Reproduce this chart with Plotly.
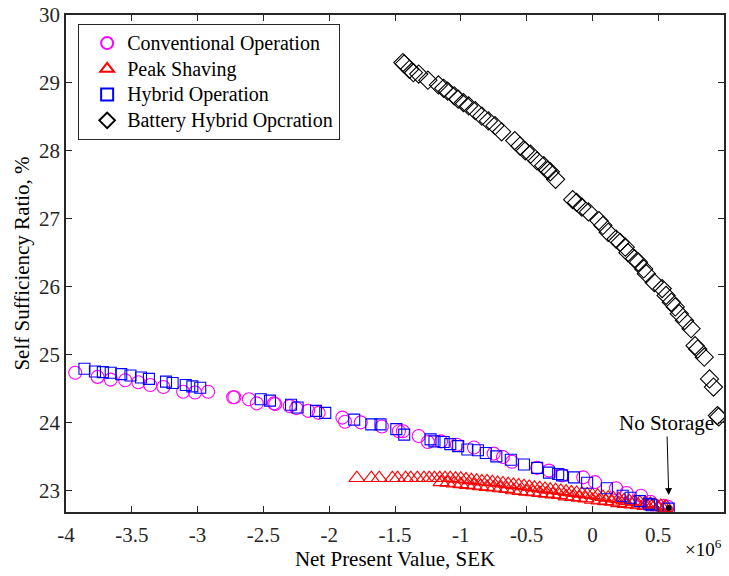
import plotly.graph_objects as go

# ---------------- data (NPV in 1e6 SEK, self-sufficiency in %) ----------------
conv_x = [-3.93, -3.76, -3.66, -3.55, -3.45, -3.36, -3.26, -3.11, -3.02, -2.92,
          -2.73, -2.72, -2.61, -2.55, -2.42, -2.41, -2.30, -2.25, -2.16, -2.08,
          -1.90, -1.88, -1.76, -1.60, -1.47, -1.44, -1.32, -1.25, -1.15, -1.03,
          -0.90, -0.75, -0.68, -0.61, -0.42, -0.33, -0.23, -0.07, 0.02, 0.18,
          0.26, 0.37, 0.44, 0.54, 0.57]
conv_y = [24.73, 24.67, 24.63, 24.62, 24.59, 24.55, 24.52, 24.45, 24.44, 24.45,
          24.37, 24.37, 24.34, 24.28, 24.28, 24.27, 24.24, 24.21, 24.17, 24.14,
          24.07, 24.01, 24.00, 23.94, 23.87, 23.87, 23.80, 23.71, 23.72, 23.67,
          23.63, 23.54, 23.49, 23.42, 23.33, 23.29, 23.22, 23.19, 23.12, 23.03,
          22.96, 22.92, 22.83, 22.77, 22.76]

peak_x = [-1.79, -1.68, -1.62, -1.52, -1.48, -1.42, -1.38, -1.33, -1.28, -1.24,
          -1.20, -1.16, -1.12, -1.08, -1.04, -1.00, -0.96, -0.92, -0.88, -0.84,
          -0.80, -0.76, -0.72, -0.68, -0.64, -0.60, -0.56, -0.52, -0.48, -0.44,
          -0.40, -0.36, -0.32, -0.28, -0.24, -0.20, -0.16, -0.12, -0.08, -0.04,
          0.00, 0.04, 0.08, 0.12, 0.16, 0.20, 0.24, 0.28, 0.32, 0.36,
          0.40, 0.44, 0.48, 0.52, 0.56,
          -1.15, -1.10, -1.05, -1.00, -0.95, -0.90, -0.85, -0.80, -0.75, -0.70,
          -0.65, -0.60, -0.55, -0.50, -0.45, -0.40, -0.35, -0.30, -0.25, -0.20,
          -0.15, -0.10, -0.05, 0.00, 0.05, 0.10, 0.15, 0.20, 0.25, 0.30,
          0.35, 0.40, 0.45, 0.50, 0.55]
peak_y = [23.18, 23.18, 23.18, 23.18, 23.18, 23.18, 23.18, 23.18, 23.18, 23.18,
          23.18, 23.18, 23.18, 23.18, 23.17, 23.17, 23.16, 23.15, 23.14, 23.13,
          23.13, 23.12, 23.11, 23.10, 23.09, 23.08, 23.07, 23.06, 23.05, 23.04,
          23.03, 23.02, 23.01, 23.00, 22.99, 22.98, 22.97, 22.96, 22.95, 22.94,
          22.93, 22.92, 22.90, 22.89, 22.88, 22.87, 22.85, 22.84, 22.83, 22.82,
          22.81, 22.80, 22.78, 22.77, 22.76,
          23.12, 23.11, 23.10, 23.09, 23.08, 23.07, 23.06, 23.05, 23.04, 23.03,
          23.02, 23.00, 22.99, 22.98, 22.97, 22.96, 22.95, 22.94, 22.93, 22.91,
          22.90, 22.89, 22.88, 22.86, 22.85, 22.84, 22.83, 22.81, 22.80, 22.79,
          22.78, 22.77, 22.76, 22.75, 22.74]

hyb_x = [-3.86, -3.78, -3.72, -3.66, -3.58, -3.51, -3.43, -3.37, -3.24, -3.19,
         -3.09, -3.04, -2.98, -2.52, -2.45, -2.29, -2.24, -2.10, -2.03, -1.81,
         -1.68, -1.61, -1.49, -1.43, -1.23, -1.20, -1.13, -1.08, -1.02, -0.95,
         -0.87, -0.81, -0.73, -0.62, -0.52, -0.42, -0.33, -0.26, -0.23, -0.14,
         -0.04, 0.11, 0.23, 0.29, 0.36, 0.43, 0.45, 0.58]
hyb_y = [24.79, 24.75, 24.74, 24.73, 24.71, 24.69, 24.66, 24.64, 24.60, 24.58,
         24.55, 24.53, 24.51, 24.34, 24.32, 24.26, 24.22, 24.17, 24.14, 24.04,
         23.97, 23.97, 23.90, 23.82, 23.75, 23.72, 23.71, 23.68, 23.65, 23.60,
         23.59, 23.55, 23.50, 23.45, 23.38, 23.33, 23.26, 23.24, 23.22, 23.19,
         23.11, 23.03, 22.92, 22.89, 22.84, 22.80, 22.78, 22.73]

bat_x = [-1.44, -1.43, -1.39, -1.36, -1.32, -1.25, -1.17, -1.13, -1.10, -1.05,
         -1.02, -0.98, -0.94, -0.89, -0.84, -0.79, -0.74, -0.69, -0.59, -0.55,
         -0.51, -0.47, -0.42, -0.37, -0.34, -0.32, -0.28, -0.15, -0.12, -0.08,
         -0.03, 0.05, 0.08, 0.12, 0.18, 0.21, 0.25, 0.27, 0.32, 0.35,
         0.39, 0.41, 0.47, 0.53, 0.56, 0.60, 0.63, 0.66, 0.70, 0.75,
         0.78, 0.80, 0.85, 0.89, 0.92, 0.95, 0.96]
bat_y = [29.30, 29.28, 29.20, 29.15, 29.13, 29.04, 28.97, 28.92, 28.88, 28.81,
         28.76, 28.71, 28.66, 28.59, 28.51, 28.44, 28.37, 28.28, 28.15, 28.07,
         28.00, 27.95, 27.85, 27.78, 27.71, 27.69, 27.58, 27.28, 27.24, 27.17,
         27.10, 26.97, 26.90, 26.80, 26.70, 26.65, 26.58, 26.50, 26.41, 26.36,
         26.26, 26.19, 26.06, 25.97, 25.87, 25.77, 25.70, 25.60, 25.50, 25.38,
         25.13, 25.08, 24.96, 24.64, 24.52, 24.10, 24.08]

nostore_x = [0.58]
nostore_y = [22.74]

series_names = ["Conventional Operation", "Peak Shaving", "Hybrid Operation",
                "Battery Hybrid Opcration"]

x_ticks = [-4, -3.5, -3, -2.5, -2, -1.5, -1, -0.5, 0, 0.5, 1]
x_labels = ["-4", "-3.5", "-3", "-2.5", "-2", "-1.5", "-1", "-0.5", "0", "0.5", "1"]
y_ticks = [23, 24, 25, 26, 27, 28, 29, 30]

FONT = "Liberation Serif, Times New Roman, serif"


def legend_name(s):
    # larger glyphs than the legend's nominal size keeps the row pitch tight
    return '<span style="font-size:20px">' + s + "</span>"


fig = go.Figure()
fig.add_trace(go.Scatter(x=conv_x, y=conv_y, mode="markers", name=legend_name(series_names[0]),
                         marker=dict(symbol="circle-open", size=13, color="#FF00FF",
                                     line=dict(width=1.1, color="#FF00FF"))))
fig.add_trace(go.Scatter(x=peak_x, y=peak_y, mode="markers", name=legend_name(series_names[1]),
                         marker=dict(symbol="triangle-up-open", size=14, color="#FF0000",
                                     line=dict(width=1.1, color="#FF0000"))))
fig.add_trace(go.Scatter(x=hyb_x, y=hyb_y, mode="markers", name=legend_name(series_names[2]),
                         marker=dict(symbol="square-open", size=11, color="#0000FF",
                                     line=dict(width=1.1, color="#0000FF"))))
fig.add_trace(go.Scatter(x=bat_x, y=bat_y, mode="markers", name=legend_name(series_names[3]),
                         marker=dict(symbol="diamond-open", size=14, color="#000000",
                                     line=dict(width=1.1, color="#000000"))))
fig.add_trace(go.Scatter(x=nostore_x, y=nostore_y, mode="markers", showlegend=False,
                         marker=dict(symbol="circle", size=6, color="#000000")))

fig.add_annotation(x=0.58, y=22.93, xref="x", yref="y", text="No Storage",
                   showarrow=True, ax=-2, ay=-72, axref="pixel", ayref="pixel",
                   arrowhead=2, arrowsize=1.4, arrowwidth=1, arrowcolor="#000000",
                   font=dict(family=FONT, size=21, color="#000000"))
fig.add_annotation(x=1.0, y=0, xref="paper", yref="paper", xanchor="right", yanchor="top",
                   yshift=-22, xshift=0, text="×10<sup>6</sup>", showarrow=False,
                   font=dict(family=FONT, size=19, color="#000000"))

axis_common = dict(showline=True, linecolor="#262626", linewidth=1.5, mirror="ticks",
                   ticks="inside", ticklen=6, tickwidth=1.3, tickcolor="#262626",
                   showgrid=False, zeroline=False,
                   tickfont=dict(family=FONT, size=21, color="#262626"))

fig.update_layout(
    width=729, height=576,
    margin=dict(l=66, r=3, t=13, b=64),
    paper_bgcolor="white", plot_bgcolor="white",
    font=dict(family=FONT, color="#000000"),
    showlegend=True,
    legend=dict(x=0.018, y=0.982, xanchor="left", yanchor="top",
                bgcolor="white", bordercolor="#262626", borderwidth=1.3,
                font=dict(family=FONT, size=17.5, color="#000000"),
                tracegroupgap=0, itemsizing="constant", indentation=8),
    xaxis=dict(range=[-4, 1], tickmode="array", tickvals=x_ticks, ticktext=x_labels,
               ticklabelstandoff=3,
               title=dict(text="Net Present Value, SEK", font=dict(family=FONT, size=21, color="#000000"), standoff=5),
               **axis_common),
    yaxis=dict(range=[22.68, 30], tickmode="array", tickvals=y_ticks,
               title=dict(text="Self Sufficiency Ratio, %", font=dict(family=FONT, size=21, color="#000000"), standoff=4),
               **axis_common),
)

fig.write_html("out.html")
